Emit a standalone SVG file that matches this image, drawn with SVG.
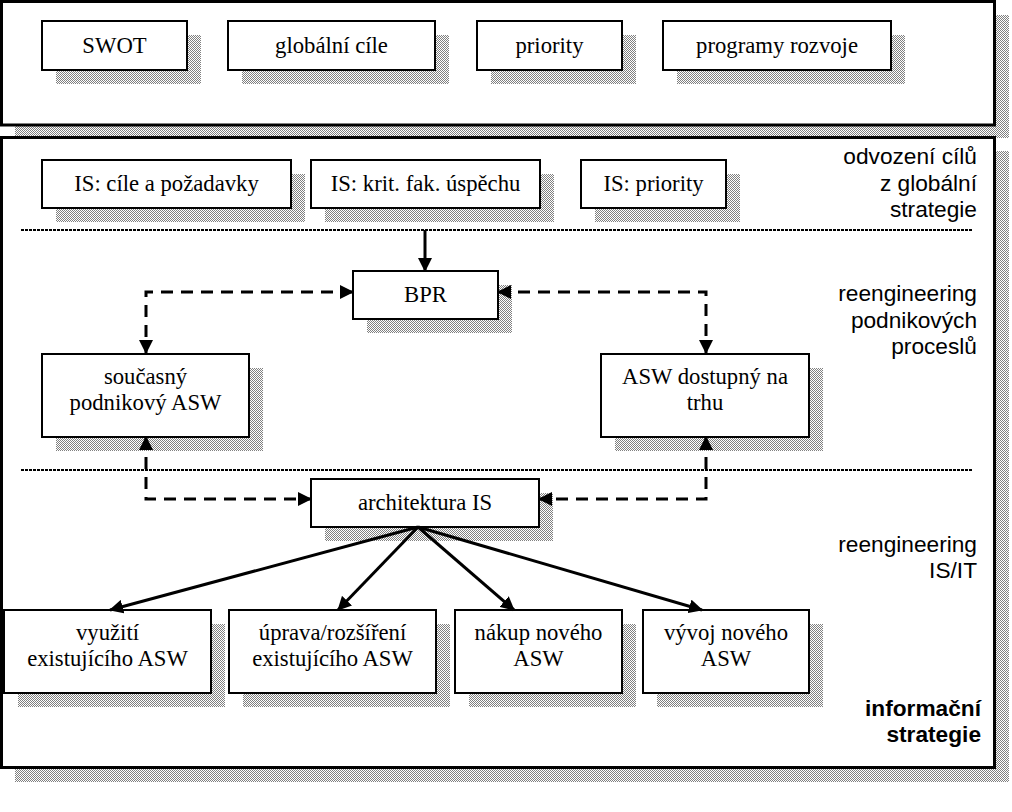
<svg xmlns="http://www.w3.org/2000/svg" width="1012" height="812" viewBox="0 0 1012 812">
<defs>
<pattern id="dith" width="2" height="2" patternUnits="userSpaceOnUse">
<rect width="2" height="2" fill="#ffffff"/>
<rect x="0" y="0" width="1" height="1" fill="#808080"/>
<rect x="1" y="1" width="1" height="1" fill="#808080"/>
</pattern>
<marker id="ah" viewBox="0 0 14 14" refX="13" refY="7" markerWidth="14" markerHeight="14" markerUnits="userSpaceOnUse" orient="auto-start-reverse">
<path d="M0,0 L14,7 L0,14 z" fill="#000"/>
</marker>
</defs>
<style>
.sh{fill:url(#dith);stroke:none}
.outer{fill:#fff;stroke:#000;stroke-width:3}
.box{fill:#fff;stroke:#000;stroke-width:2}
.t{font-family:"Liberation Serif","Times New Roman",serif;font-size:22.7px;fill:#000;text-anchor:middle}
.lab{font-family:"Liberation Sans",Arial,sans-serif;font-size:22.7px;fill:#000;text-anchor:end}
.bold{font-weight:bold}
.dot{stroke:#000;stroke-width:2;stroke-dasharray:3 1;fill:none}
.dash{stroke:#000;stroke-width:3;stroke-dasharray:12 8;fill:none;marker-start:url(#ah);marker-end:url(#ah)}
.solid{stroke:#000;stroke-width:3;fill:none;marker-end:url(#ah)}
</style>

<g id="frame-global">
<rect class="sh" x="15" y="15" width="994" height="123"/>
<rect class="outer" x="1.5" y="1.5" width="993" height="123.5"/>
</g>
<g id="frame-is">
<rect class="sh" x="15" y="151" width="994" height="631"/>
<rect class="outer" x="1.5" y="137.5" width="993" height="630"/>
</g>

<g id="labels">
<text class="lab" x="977" y="164">odvození cílů</text>
<text class="lab" x="977" y="190.5">z globální</text>
<text class="lab" x="977" y="217">strategie</text>
<text class="lab" x="977" y="301">reengineering</text>
<text class="lab" x="977" y="327.5">podnikových</text>
<text class="lab" x="977" y="354">proceslů</text>
<text class="lab" x="977" y="552">reengineering</text>
<text class="lab" x="977" y="578">IS/IT</text>
<text class="lab bold" x="981" y="716">informační</text>
<text class="lab bold" x="981" y="742">strategie</text>
</g>

<g id="separators">
<line class="dot" x1="21" y1="230" x2="973" y2="230"/>
<line class="dot" x1="21" y1="470" x2="973" y2="470"/>
</g>

<g id="n-swot">
<rect class="sh" x="56" y="35" width="145" height="49"/>
<rect class="box" x="42" y="21" width="145" height="49"/>
<text class="t" x="114.5" y="53">SWOT</text>
</g>
<g id="n-globalni-cile">
<rect class="sh" x="242" y="35" width="207" height="49"/>
<rect class="box" x="228" y="21" width="207" height="49"/>
<text class="t" x="331.5" y="53">globální cíle</text>
</g>
<g id="n-priority">
<rect class="sh" x="491" y="35" width="145" height="49"/>
<rect class="box" x="477" y="21" width="145" height="49"/>
<text class="t" x="549.5" y="53">priority</text>
</g>
<g id="n-programy">
<rect class="sh" x="677" y="35" width="228" height="49"/>
<rect class="box" x="663" y="21" width="228" height="49"/>
<text class="t" x="777" y="53">programy rozvoje</text>
</g>

<g id="n-is-cile">
<rect class="sh" x="56" y="174" width="249" height="48"/>
<rect class="box" x="42" y="160" width="249" height="48"/>
<text class="t" x="166.5" y="191">IS: cíle a požadavky</text>
</g>
<g id="n-is-krit">
<rect class="sh" x="325" y="174" width="229" height="48"/>
<rect class="box" x="311" y="160" width="229" height="48"/>
<text class="t" x="425.5" y="191">IS: krit. fak. úspěchu</text>
</g>
<g id="n-is-priority">
<rect class="sh" x="595" y="174" width="145" height="48"/>
<rect class="box" x="581" y="160" width="145" height="48"/>
<text class="t" x="653.5" y="191">IS: priority</text>
</g>

<g id="n-bpr">
<rect class="sh" x="367" y="285" width="145" height="48"/>
<rect class="box" x="353" y="271" width="145" height="48"/>
<text class="t" x="425.5" y="302">BPR</text>
</g>
<g id="n-soucasny">
<rect class="sh" x="56" y="368" width="207" height="83"/>
<rect class="box" x="42" y="354" width="207" height="83"/>
<text class="t" x="145.5" y="384">současný</text>
<text class="t" x="145.5" y="410">podnikový ASW</text>
</g>
<g id="n-asw-trh">
<rect class="sh" x="615" y="368" width="208" height="83"/>
<rect class="box" x="601" y="354" width="208" height="83"/>
<text class="t" x="705" y="384">ASW dostupný na</text>
<text class="t" x="705" y="410">trhu</text>
</g>
<g id="n-architektura">
<rect class="sh" x="325" y="493" width="228" height="48"/>
<rect class="box" x="311" y="479" width="228" height="48"/>
<text class="t" x="425" y="510">architektura IS</text>
</g>

<g id="n-vyuziti">
<rect class="sh" x="18" y="624" width="207" height="83"/>
<rect class="box" x="4" y="610" width="207" height="83"/>
<text class="t" x="107.5" y="640">využití</text>
<text class="t" x="107.5" y="666">existujícího ASW</text>
</g>
<g id="n-uprava">
<rect class="sh" x="243" y="624" width="207" height="83"/>
<rect class="box" x="229" y="610" width="207" height="83"/>
<text class="t" x="332.5" y="640">úprava/rozšíření</text>
<text class="t" x="332.5" y="666">existujícího ASW</text>
</g>
<g id="n-nakup">
<rect class="sh" x="469" y="624" width="167" height="83"/>
<rect class="box" x="455" y="610" width="167" height="83"/>
<text class="t" x="538.5" y="640">nákup nového</text>
<text class="t" x="538.5" y="666">ASW</text>
</g>
<g id="n-vyvoj">
<rect class="sh" x="657" y="624" width="166" height="83"/>
<rect class="box" x="643" y="610" width="166" height="83"/>
<text class="t" x="726" y="640">vývoj nového</text>
<text class="t" x="726" y="666">ASW</text>
</g>

<g id="connectors">
<path class="solid" d="M425,230 V271"/>
<path class="dash" d="M353,292 H146 V353"/>
<path class="dash" d="M498,292 H706 V353"/>
<path class="dash" d="M146,437 V499 H311"/>
<path class="dash" d="M706,437 V499 H539"/>
<path class="solid" d="M418,527 L110,610"/>
<path class="solid" d="M418,527 L338,610"/>
<path class="solid" d="M418,527 L514,610"/>
<path class="solid" d="M418,527 L702,610"/>
</g>
</svg>
